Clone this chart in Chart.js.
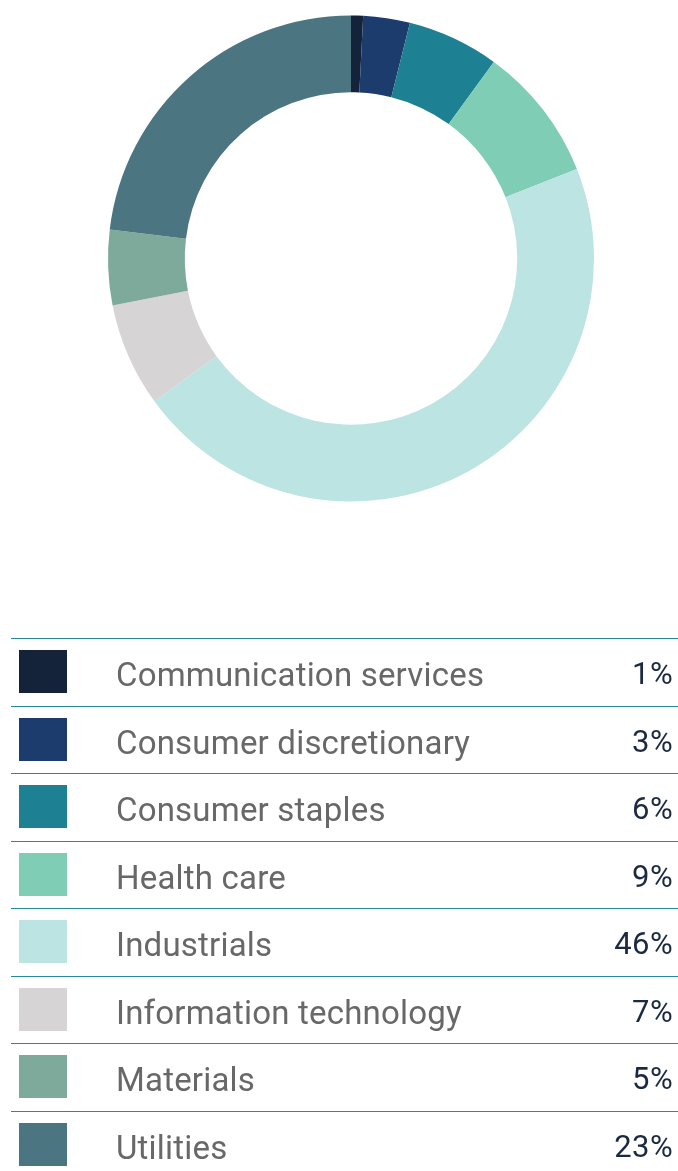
<!DOCTYPE html>
<html>
<head>
<meta charset="utf-8">
<script src="https://cdn.jsdelivr.net/npm/chart.js@4.4.1/dist/chart.umd.min.js"></script>
<style>
  html, body { margin: 0; padding: 0; background: #ffffff; }
  body { width: 678px; height: 1171px; position: relative; overflow: hidden; font-family: Roboto, "Noto Sans", sans-serif; }
  #chartWrap { position: absolute; left: 0; top: 0; width: 678px; height: 520px; }
  #legend { position: absolute; left: 0; top: 0; width: 678px; height: 1171px; }
  .row { position: absolute; left: 11px; width: 667px; height: 67px; border-top: 1px solid #2b879a; }
  .sw { position: absolute; left: 8px; top: 11px; width: 48px; height: 43px; }
  .lab { position: absolute; left: 105px; top: 14px; font-size: 33px; line-height: 44px; color: #686868; letter-spacing: 0.2px; white-space: nowrap; }
  .pct { position: absolute; right: 5px; top: 13px; font-size: 31px; line-height: 44px; color: #1b2a41; letter-spacing: 0.4px; white-space: nowrap; text-align: right; }
</style>
</head>
<body>
<div id="chartWrap"><canvas id="c"></canvas></div>
<div id="legend"></div>
<script>
// Data
const categories = [
  "Communication services",
  "Consumer discretionary",
  "Consumer staples",
  "Health care",
  "Industrials",
  "Information technology",
  "Materials",
  "Utilities"
];
const shares = [0.8, 3.1, 6.1, 9.0, 46.0, 6.9, 5.0, 23.1];
const sliceColors = ["#15233a", "#1d3c6e", "#1e8093", "#80cdb5", "#bce4e2", "#d6d4d5", "#7eaa9c", "#4b7580"];

new Chart(document.getElementById("c"), {
  type: "doughnut",
  data: {
    labels: categories,
    datasets: [{
      data: shares,
      backgroundColor: sliceColors,
      borderWidth: 0,
      hoverOffset: 0
    }]
  },
  options: {
    responsive: true,
    maintainAspectRatio: false,
    animation: false,
    cutout: "68.4%",
    rotation: 0,
    layout: { padding: { left: 108, right: 84, top: 15.5, bottom: 18.5 } },
    plugins: { legend: { display: false }, tooltip: { enabled: false } }
  }
});

// Table-style legend built from the same arrays
const legend = document.getElementById("legend");
categories.forEach((name, i) => {
  const row = document.createElement("div");
  row.className = "row";
  row.style.top = (638 + i * 67.5) + "px";
  const sw = document.createElement("div");
  sw.className = "sw";
  sw.style.background = sliceColors[i];
  const lab = document.createElement("div");
  lab.className = "lab";
  lab.textContent = name;
  const pct = document.createElement("div");
  pct.className = "pct";
  pct.textContent = Math.round(shares[i]) + "%";
  row.appendChild(sw); row.appendChild(lab); row.appendChild(pct);
  legend.appendChild(row);
});
</script>
</body>
</html>
